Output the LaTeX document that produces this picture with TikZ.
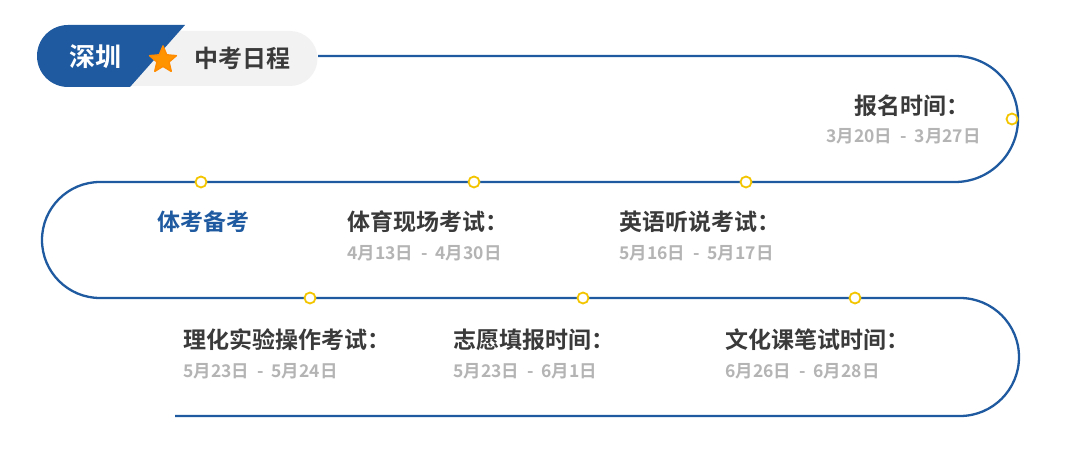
\documentclass[tikz,border=0pt]{standalone}
\usepackage{fontspec}
\newfontfamily\cjk{Noto Sans CJK SC Bold}
\usetikzlibrary{shapes.geometric}
\definecolor{myblue}{HTML}{1F5AA0}
\definecolor{mygrey}{HTML}{B4B4B4}
\definecolor{mytext}{HTML}{3A3A3A}
\definecolor{myyellow}{HTML}{F2C500}
\definecolor{pill}{HTML}{F2F2F2}
\begin{document}
\begin{tikzpicture}[x=1pt,y=-1pt,
  dot/.style={circle,draw=myyellow,fill=white,line width=1.8pt,minimum size=11pt,inner sep=0pt},
  lab/.style={font=\cjk\fontsize{23}{25}\selectfont,text=mytext,inner sep=0pt},
  dat/.style={font=\cjk\fontsize{17.5}{19}\selectfont,text=mygrey,inner sep=0pt}]
\useasboundingbox (0,0) rectangle (1080,470);
\fill[white] (0,0) rectangle (1080,470);
% header
\fill[pill] (130,31) -- (290,31) arc[start angle=-90,end angle=90,radius=27.5] -- (130,86) -- cycle;
\fill[myblue] (68,25) -- (185,25) -- (130,87) -- (68,87) arc[start angle=90,end angle=270,radius=31] -- cycle;
\node[font=\cjk\fontsize{26}{28}\selectfont,text=white] (t1) at (95,57) {深圳};
\node[star,star points=5,star point ratio=2.2,fill=orange!85!yellow,draw=orange!90!yellow,line join=round,line width=1.5pt,minimum size=28pt,inner sep=0pt] (st) at (163,60) {};
\node[font=\cjk\fontsize{24}{26}\selectfont,text=mytext] (t2) at (242,58) {中考日程};
% path
\coordinate (p0) at (318,56);
\draw[myblue,line width=2.3pt] (p0) -- (955,56) arc[start angle=-90,end angle=90,radius=63] -- (100,182) arc[start angle=270,end angle=90,radius=58] -- (960,298) arc[start angle=-90,end angle=90,radius=59] -- (175,416);
\node[dot] (d0) at (1012,119) {};
\node[dot] (d1) at (201,182) {};
\node[dot] (d2) at (474,182) {};
\node[dot] (d3) at (746,182) {};
\node[dot] (d4) at (310,298) {};
\node[dot] (d5) at (583,298) {};
\node[dot] (d6) at (855,298) {};
% labels
\newcommand{\sep}{\hspace{8pt}-\hspace{8pt}}
\node[lab,anchor=east] (a1) at (970,106) {报名时间：};
\node[dat,anchor=east] (b1) at (981,136) {3月20日\sep 3月27日};
\node[lab,anchor=west,text=myblue] (a2) at (157,222) {体考备考};
\node[lab,anchor=west] (a3) at (347,222) {体育现场考试：};
\node[dat,anchor=west] (b3) at (347,253) {4月13日\sep 4月30日};
\node[lab,anchor=west] (a4) at (619,222) {英语听说考试：};
\node[dat,anchor=west] (b4) at (619,253) {5月16日\sep 5月17日};
\node[lab,anchor=west] (a5) at (183,340) {理化实验操作考试：};
\node[dat,anchor=west] (b5) at (183,371) {5月23日\sep 5月24日};
\node[lab,anchor=west] (a6) at (453,340) {志愿填报时间：};
\node[dat,anchor=west] (b6) at (453,371) {5月23日\sep 6月1日};
\node[lab,anchor=west] (a7) at (725,340) {文化课笔试时间：};
\node[dat,anchor=west] (b7) at (725,371) {6月26日\sep 6月28日};
\end{tikzpicture}
\end{document}
